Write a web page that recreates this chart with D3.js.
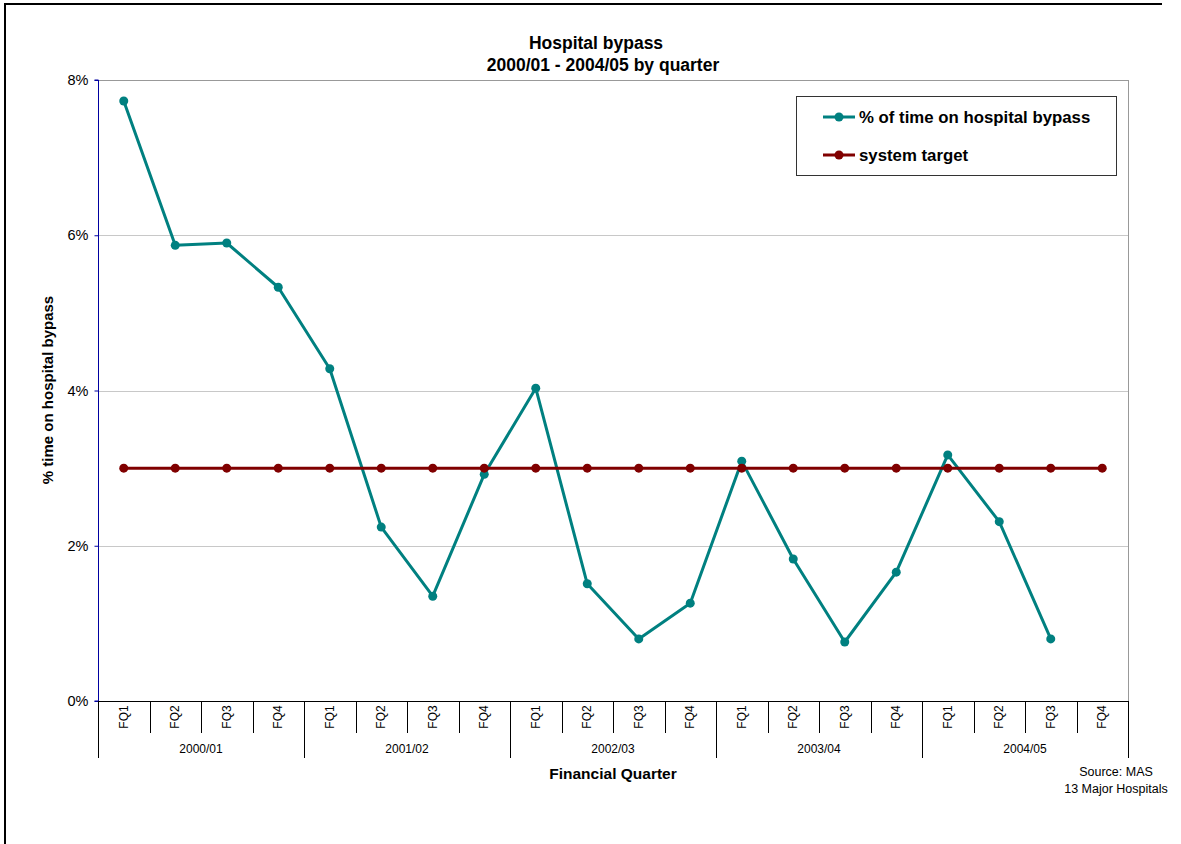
<!DOCTYPE html>
<html>
<head>
<meta charset="utf-8">
<script src="https://cdn.jsdelivr.net/npm/d3@7"></script>
<style>
  body { margin: 0; background: #fff; }
  svg { display: block; font-family: Arial, "Liberation Sans", sans-serif; }
</style>
</head>
<body>
<svg id="chart" width="1181" height="844"></svg>
<script>
// Financial years and quarters along the category axis
const years = ["2000/01", "2001/02", "2002/03", "2003/04", "2004/05"];
const quarters = ["FQ1", "FQ2", "FQ3", "FQ4"];

// % of time on hospital bypass (last quarter not yet reported)
const bypassPct = [
  7.73, 5.87, 5.90, 5.33,
  4.28, 2.24, 1.35, 2.92,
  4.03, 1.51, 0.80, 1.26,
  3.09, 1.83, 0.76, 1.66,
  3.17, 2.31, 0.80, null
];

// System target, constant across every quarter
const targetPct = Array(20).fill(3);

const yTicks = [0, 2, 4, 6, 8];

const seriesNames = ["% of time on hospital bypass", "system target"];
const seriesColors = ["#008080", "#800000"];

const svg = d3.select("#chart");
const m = { left: 98, right: 1128, top: 80, bottom: 701 };

const cats = years.flatMap(y => quarters.map(q => y + "|" + q));

const x = d3.scaleBand().domain(cats).range([m.left, m.right]);
const y = d3.scaleLinear().domain([0, 8]).range([m.bottom, m.top]);

// Outer chart frame (top and left edges)
svg.append("line").attr("x1", 4).attr("x2", 1162).attr("y1", 4).attr("y2", 4)
  .attr("stroke", "#000").attr("stroke-width", 2);
svg.append("line").attr("x1", 5).attr("x2", 5).attr("y1", 3).attr("y2", 844)
  .attr("stroke", "#000").attr("stroke-width", 2);

// Horizontal gridlines
svg.append("g").selectAll("line").data(yTicks.filter(t => t > 0)).join("line")
  .attr("x1", m.left).attr("x2", m.right)
  .attr("y1", d => Math.round(y(d)) + 0.5).attr("y2", d => Math.round(y(d)) + 0.5)
  .attr("stroke", d => d === 8 ? "#999" : "#c8c8c8").attr("stroke-width", 1);

// Plot area right edge
svg.append("line").attr("x1", m.right + 0.5).attr("x2", m.right + 0.5)
  .attr("y1", m.top).attr("y2", m.bottom).attr("stroke", "#999");

// Y axis
const yAxis = d3.axisLeft(y).tickValues(yTicks).tickSize(4).tickPadding(6)
  .tickFormat(d => d + "%");
const gy = svg.append("g").attr("transform", `translate(${m.left + 0.5},0)`).call(yAxis);
gy.select(".domain").attr("stroke", "#0000a0").attr("d", `M-4,${m.top}H0V${m.bottom}H-4`);
gy.selectAll(".tick line").attr("stroke", "#0000a0");
gy.selectAll(".tick text").attr("font-size", 14.5).attr("fill", "#000")
  .attr("font-family", "Arial, 'Liberation Sans', sans-serif");

// X axis baseline
svg.append("line").attr("x1", m.left).attr("x2", m.right)
  .attr("y1", m.bottom + 0.5).attr("y2", m.bottom + 0.5).attr("stroke", "#000");

// Category separators: short between quarters, long between years
const gx = svg.append("g");
d3.range(cats.length + 1).forEach(i => {
  const xx = Math.round(m.left + i * x.bandwidth()) + 0.5;
  const long = i % 4 === 0;
  gx.append("line").attr("x1", xx).attr("x2", xx)
    .attr("y1", m.bottom).attr("y2", long ? 758 : 733)
    .attr("stroke", "#000");
});

// Quarter labels, rotated
gx.selectAll("text.q").data(cats).join("text").attr("class", "q")
  .attr("transform", d => `translate(${x(d) + x.bandwidth() / 2 + 4},717) rotate(-90)`)
  .attr("text-anchor", "middle").attr("font-size", 12).attr("fill", "#000")
  .text(d => d.split("|")[1]);

// Year labels
gx.selectAll("text.yr").data(years).join("text").attr("class", "yr")
  .attr("x", d => x(d + "|FQ1") + x.bandwidth() * 2)
  .attr("y", 753).attr("text-anchor", "middle").attr("font-size", 12).attr("fill", "#000")
  .text(d => d);

// Axis titles
svg.append("text").attr("x", 613).attr("y", 779).attr("text-anchor", "middle")
  .attr("font-size", 15.5).attr("font-weight", "bold").text("Financial Quarter");
svg.append("text").attr("transform", "translate(53,390) rotate(-90)")
  .attr("text-anchor", "middle").attr("font-size", 15).attr("font-weight", "bold")
  .text("% time on hospital bypass");

// Chart title
svg.append("text").attr("x", 596).attr("y", 49).attr("text-anchor", "middle")
  .attr("font-size", 17.5).attr("font-weight", "bold").text("Hospital bypass");
svg.append("text").attr("x", 603).attr("y", 71).attr("text-anchor", "middle")
  .attr("font-size", 17.5).attr("font-weight", "bold").text("2000/01 - 2004/05 by quarter");

// Source note
svg.append("text").attr("y", 776).attr("text-anchor", "middle")
  .attr("font-size", 12.5).attr("fill", "#000")
  .selectAll("tspan").data(["Source: MAS", "13 Major Hospitals"]).join("tspan")
  .attr("x", 1116)
  .attr("dy", (d, i) => i === 0 ? 0 : 17).text(d => d);

// Series lines and markers
const cx = d => x(d) + x.bandwidth() / 2;
function drawSeries(values, color) {
  const pts = cats.map((c, i) => ({ c, v: values[i] }));
  const line = d3.line().defined(d => d.v != null)
    .x(d => cx(d.c)).y(d => y(d.v));
  const g = svg.append("g");
  g.append("path").datum(pts).attr("d", line).attr("fill", "none")
    .attr("stroke", color).attr("stroke-width", 3).attr("stroke-linejoin", "round");
  g.selectAll("circle").data(pts.filter(d => d.v != null)).join("circle")
    .attr("cx", d => cx(d.c)).attr("cy", d => y(d.v)).attr("r", 4.5).attr("fill", color);
}
drawSeries(bypassPct, seriesColors[0]);
drawSeries(targetPct, seriesColors[1]);

// Legend
const lg = svg.append("g");
lg.append("rect").attr("x", 796.5).attr("y", 96.5).attr("width", 320).attr("height", 79)
  .attr("fill", "#fff").attr("stroke", "#333");
seriesNames.forEach((name, i) => {
  const ly = 117 + i * 38;
  lg.append("line").attr("x1", 823).attr("x2", 855).attr("y1", ly).attr("y2", ly)
    .attr("stroke", seriesColors[i]).attr("stroke-width", 3);
  lg.append("circle").attr("cx", 839).attr("cy", ly).attr("r", 4.5).attr("fill", seriesColors[i]);
  lg.append("text").attr("x", 859).attr("y", ly + 6).attr("font-size", 16.8)
    .attr("font-weight", "bold").text(name);
});
</script>
</body>
</html>
